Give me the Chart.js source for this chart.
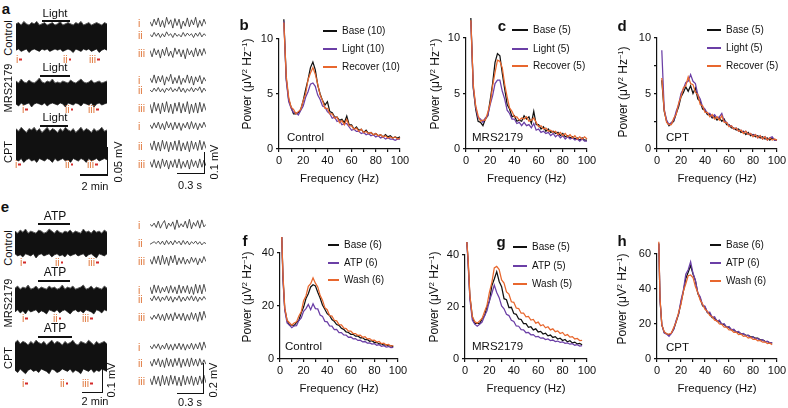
<!DOCTYPE html>
<html>
<head>
<meta charset="utf-8">
<title>Power spectra</title>
<script src="https://cdn.jsdelivr.net/npm/chart.js@4.4.1/dist/chart.umd.min.js"></script>
<style>
  html, body { margin: 0; padding: 0; background: #fff; }
  #fig { position: relative; width: 788px; height: 408px; overflow: hidden;
         font-family: 'Liberation Sans', Arial, Helvetica, sans-serif; color: #111; }
  #fig canvas { position: absolute; }
  .t { position: absolute; white-space: nowrap; line-height: 1; font-size: 11px; }
  .letter { font-weight: bold; font-size: 15px; }
  .roman { color: #e0783c; font-size: 10.5px; }
  .dot { display: inline-block; width: 2.5px; height: 2.5px; background: #d42a2a; margin-left: 1px; vertical-align: middle; }
  .bar { position: absolute; background: #111; }
  sup { font-size: 0.62em; line-height: 0; vertical-align: 0.5em; }
</style>
</head>
<body>
<div id="fig"></div>
<script>
// frequency axes (Hz)
const freqTop = [4,6,8,10,12,14,16,18,20,22,24,26,28,30,32,34,36,38,40,42,44,46,48,50,52,54,56,58,60,62,64,66,68,70,72,74,76,78,80,82,84,86,88,90,92,94,96,98,100];
const freqBottom = [1.5,2.5,4,6,8,10,12,14,16,18,20,22,24,26,28,30,32,34,36,38,40,42,44,46,48,50,52,54,56,58,60,62,64,66,68,70,72,74,76,78,80,82,84,86,88,90,92,94,96];

// b: Control, light
const bBase    = [11.8,6.4,4.5,3.8,3.2,3.2,3.3,3.6,4.4,5.4,6.3,7.4,7.9,7.2,5.8,5.0,4.4,4.0,4.3,3.4,3.3,2.9,2.9,2.6,2.7,2.4,3.0,2.2,2.2,1.8,2.0,1.7,1.8,1.5,1.7,1.4,1.5,1.3,1.4,1.2,1.3,1.1,1.3,1.1,1.2,1.0,1.1,1.0,1.1];
const bLight   = [11.6,6.2,4.3,3.7,3.3,3.3,3.1,3.5,3.9,4.7,5.2,5.9,6.0,5.7,4.9,4.5,3.9,3.8,3.4,3.2,2.8,2.9,2.5,2.6,2.2,2.3,2.3,2.0,1.7,1.8,1.6,1.6,1.4,1.5,1.3,1.4,1.2,1.3,1.1,1.2,1.0,1.1,0.9,1.0,0.9,0.9,0.8,0.9,0.9];
const bRecover = [11.5,6.6,4.7,3.8,3.6,3.2,3.4,3.6,4.4,5.0,6.3,6.9,7.4,6.8,5.9,4.9,4.4,3.7,3.7,3.2,3.2,2.8,2.9,2.4,2.6,2.2,2.7,2.1,2.1,1.8,1.9,1.6,1.8,1.5,1.6,1.4,1.5,1.3,1.4,1.2,1.3,1.1,1.2,1.0,1.1,1.0,1.1,0.9,1.0];

// c: MRS2179, light
const cBase    = [11.8,5.5,3.6,2.5,2.4,2.1,2.7,3.0,4.4,5.9,7.8,8.6,8.4,6.8,5.4,4.0,3.6,2.9,3.0,2.5,2.6,2.5,3.0,2.7,2.9,2.3,3.4,2.2,2.2,1.8,2.0,1.6,1.8,1.5,1.6,1.4,1.5,1.2,1.4,1.1,1.2,1.0,1.1,0.9,1.0,0.8,1.0,0.8,0.8];
const cLight   = [11.5,5.6,3.8,2.8,2.7,2.4,2.8,3.0,4.0,4.8,5.9,6.2,6.2,5.2,4.5,3.5,3.2,2.7,2.7,2.3,2.4,2.1,2.4,2.1,2.2,1.9,2.3,1.7,1.8,1.5,1.6,1.4,1.5,1.2,1.4,1.1,1.3,1.0,1.2,0.9,1.1,0.9,1.0,0.8,0.9,0.7,0.9,0.7,0.7];
const cRecover = [11.6,5.8,3.9,3.0,2.5,2.6,2.6,3.3,4.1,5.7,6.9,8.0,7.9,7.3,5.8,4.7,3.7,3.4,2.9,2.9,2.6,2.8,2.7,2.9,2.5,2.6,2.8,2.4,2.0,2.1,1.8,1.9,1.6,1.7,1.5,1.6,1.3,1.5,1.2,1.4,1.1,1.3,1.0,1.2,0.9,1.1,0.9,1.1,0.9];

// d: CPT, light
const dBase    = [6.2,3.4,2.5,2.1,2.3,2.5,3.2,3.8,4.7,5.1,5.6,5.2,5.7,5.0,5.5,4.5,4.3,3.6,3.5,3.1,3.1,2.8,2.9,2.6,2.8,2.5,2.7,2.2,2.2,1.9,1.9,1.7,1.8,1.5,1.6,1.3,1.5,1.2,1.3,1.1,1.2,1.0,1.1,0.9,1.0,0.8,1.0,0.8,0.8];
const dLight   = [8.9,3.6,2.6,2.2,2.4,2.6,3.4,4.0,5.0,5.4,6.0,6.1,6.7,6.1,5.9,4.9,4.5,3.8,3.6,3.2,3.2,2.9,3.1,2.8,2.9,3.2,2.5,2.4,2.1,2.1,1.8,1.9,1.6,1.7,1.5,1.6,1.3,1.4,1.2,1.3,1.0,1.2,0.9,1.1,0.8,1.0,1.1,0.8,0.8];
const dRecover = [6.4,3.5,2.4,2.2,2.2,2.8,3.1,4.1,4.7,5.5,5.7,6.5,5.9,5.8,5.1,4.9,4.0,3.9,3.3,3.3,2.9,3.1,2.7,2.9,2.6,3.0,2.4,2.4,2.0,2.1,1.8,1.9,1.6,1.7,1.4,1.6,1.3,1.4,1.1,1.3,1.0,1.2,0.9,1.1,0.8,1.0,0.8,0.9,0.8];

// f: Control, ATP
const fBase = [46,31,19,14.5,12.8,12.9,12.6,13.8,14.6,17.4,19.6,22.8,24.6,27.2,28.0,27.6,25.2,23.0,20.4,18.8,17.1,16.4,14.9,14.2,13.0,12.7,11.6,11.2,10.2,10.0,9.3,9.3,8.6,8.7,8.0,8.1,7.3,7.4,6.7,6.9,6.2,6.3,5.7,5.8,5.2,5.4,4.9,5.0,4.7];
const fATP  = [46,30,18.5,13.6,12.8,11.8,12.5,12.6,14.5,15.5,18.0,19.0,20.6,18.6,20.8,19.0,18.9,16.6,16.1,14.2,14.0,12.5,12.4,11.1,11.2,10.0,10.0,9.1,9.0,8.2,8.3,7.6,7.7,7.0,7.1,6.5,6.6,6.0,6.1,5.6,5.8,5.2,5.4,4.8,5.0,4.5,4.7,4.3,4.4];
const fWash = [46,32,19.5,14.6,13.7,12.8,13.6,14.0,16.2,17.8,22.0,23.8,27.4,28.4,30.6,28.6,27.2,24.0,22.2,19.4,18.6,16.4,16.2,14.6,14.4,13.0,12.9,11.7,11.5,10.5,10.5,9.6,9.6,8.9,9.0,8.2,8.4,7.6,7.7,7.0,7.1,6.4,6.6,5.8,6.0,5.3,5.5,4.9,5.1];

// g: MRS2179, ATP
const gBase = [45,38,24,16.2,13.6,13.8,13.6,15.4,16.6,20.2,22.2,28.2,30.8,33.6,29.8,27.8,23.2,22.8,19.8,19.9,17.5,17.2,15.4,15.2,13.6,13.6,12.2,12.4,11.2,11.6,10.4,10.6,9.6,9.9,8.9,9.2,8.3,8.6,7.7,8.0,7.1,7.5,6.6,7.0,6.2,6.5,5.8,6.0,5.5];
const gATP  = [45,37,23,15.0,13.4,12.6,13.4,14.2,16.5,18.5,22.4,25.2,28.4,25.6,23.6,20.4,19.3,17.2,16.7,14.9,14.4,12.7,12.6,11.3,11.2,10.1,10.2,9.3,9.4,8.5,8.7,8.0,8.1,7.5,7.7,7.1,7.3,6.7,6.9,6.4,6.6,6.0,6.2,5.7,5.9,5.3,5.5,5.0,5.1];
const gWash = [45,39,24.5,16.4,14.4,13.8,14.6,15.6,18.2,20.6,25.6,29.4,35.0,35.6,34.4,30.4,29.2,25.8,25.0,22.0,21.8,19.6,19.4,17.6,17.6,16.2,16.4,15.0,15.2,13.8,14.2,12.8,13.2,12.0,12.4,11.2,11.6,10.5,10.8,9.8,10.2,9.0,9.4,8.4,8.6,7.7,7.9,7.1,7.2];

// h: CPT, ATP
const hBase = [66,34,19.5,15.2,14.4,13.6,14.8,17.2,21.4,25.6,32.4,38.6,46.0,49.6,53.4,48.6,44.8,37.4,34.6,30.4,29.6,26.6,25.8,23.6,23.4,21.8,21.6,19.8,19.8,18.2,18.2,16.7,16.6,15.4,15.4,14.4,14.4,13.5,13.5,12.7,12.7,11.9,11.9,11.0,11.0,10.1,10.0,9.2,9.2];
const hATP  = [66,34,19.8,14.8,14.2,13.0,14.6,17.2,22.2,25.8,33.6,39.4,48.4,51.0,55.6,49.0,45.0,37.8,35.6,30.8,30.2,26.6,26.8,23.8,24.2,21.6,22.2,19.8,20.2,18.0,18.6,16.6,17.0,15.4,15.8,14.2,14.6,13.2,13.6,12.2,12.6,11.4,11.8,10.6,11.0,9.8,10.2,9.2,9.4];
const hWash = [67,35,19.6,15.6,14.4,14.2,14.8,18.2,21.2,26.6,31.2,38.8,43.0,47.6,48.0,46.6,41.4,38.0,33.6,31.4,28.4,27.2,24.8,24.2,22.2,21.8,20.0,19.8,18.2,18.2,16.6,16.6,15.2,15.4,14.0,14.2,13.0,13.2,12.0,12.4,11.2,11.4,10.4,10.6,9.6,9.8,8.8,9.0,8.2];

// long recordings: upper / lower envelope of the field potential (arbitrary units)
const aCtrlUp = [1.1,1.2,1.0,1.3,1.1,1.0,1.2,1.1,1.3,1.0,1.1,1.2,1.0,1.1,1.2,1.0,1.1,1.3,1.0,1.1,1.2,1.1,1.0,1.2,1.1,1.3,1.0,1.1,1.2,1.0,1.1,1.2,1.1,1.0,1.2,1.1];
const aCtrlLo = [-1.1,-1.0,-1.2,-1.1,-1.0,-1.3,-1.1,-1.0,-1.1,-1.2,-1.0,-1.1,-1.0,-1.2,-1.1,-1.0,-1.1,-1.0,-1.2,-1.1,-1.0,-1.1,-1.3,-1.0,-1.1,-1.2,-1.0,-1.1,-1.0,-1.2,-1.1,-1.0,-1.3,-1.1,-1.0,-1.1];
const aMrsUp  = [1.2,1.0,1.4,1.1,1.0,1.3,1.1,1.0,1.2,1.5,1.1,1.0,1.2,1.1,1.4,1.0,1.1,1.0,1.2,1.1,1.0,1.3,1.1,1.0,1.2,1.4,1.1,1.0,1.1,1.3,1.0,1.1,1.2,1.0,1.1,1.2];
const aMrsLo  = [-1.1,-1.3,-1.0,-1.2,-1.1,-1.0,-1.4,-1.1,-1.0,-1.1,-1.2,-1.0,-1.3,-1.1,-1.0,-1.1,-1.2,-1.0,-1.1,-1.4,-1.0,-1.1,-1.2,-1.0,-1.1,-1.3,-1.0,-1.1,-1.2,-1.0,-1.4,-1.1,-1.0,-1.2,-1.1,-1.0];
const aCptUp  = [1.3,1.1,1.4,1.2,1.0,1.3,1.2,1.4,1.1,1.3,1.0,1.2,1.4,1.1,1.3,1.2,1.0,1.3,1.1,1.4,1.2,1.1,1.3,1.0,1.2,1.4,1.1,1.3,1.2,1.0,1.3,1.1,1.2,1.4,1.1,1.2];
const aCptLo  = [-1.1,-1.2,-1.0,-1.3,-1.1,-1.0,-1.2,-1.1,-1.3,-1.0,-1.1,-1.2,-1.0,-1.1,-1.3,-1.0,-1.2,-1.1,-1.0,-1.2,-1.1,-1.3,-1.0,-1.1,-1.2,-1.0,-1.1,-1.3,-1.0,-1.2,-1.1,-1.0,-1.2,-1.1,-1.0,-1.1];
const eCtrlUp = [1.2,1.0,1.3,1.1,1.4,1.0,1.2,1.1,1.0,1.3,1.2,1.0,1.1,1.4,1.2,1.0,1.3,1.1,1.0,1.2,1.1,1.3,1.0,1.2,1.1,1.0,1.4,1.1,1.2,1.0,1.3,1.1,1.2,1.0,1.3,1.1];
const eCtrlLo = [-1.0,-1.2,-1.1,-1.3,-1.0,-1.1,-1.2,-1.0,-1.4,-1.1,-1.0,-1.2,-1.1,-1.0,-1.3,-1.1,-1.0,-1.2,-1.1,-1.3,-1.0,-1.2,-1.1,-1.0,-1.2,-1.1,-1.0,-1.3,-1.1,-1.0,-1.2,-1.4,-1.0,-1.1,-1.2,-1.0];
const eMrsUp  = [1.1,1.3,1.0,1.2,1.1,1.4,1.0,1.1,1.3,1.0,1.2,1.1,1.0,1.3,1.1,1.2,1.0,1.1,1.4,1.0,1.2,1.1,1.3,1.0,1.1,1.2,1.4,1.0,1.1,1.3,1.0,1.2,1.1,1.0,1.3,1.1];
const eMrsLo  = [-1.2,-1.0,-1.3,-1.1,-1.4,-1.0,-1.2,-1.1,-1.0,-1.3,-1.1,-1.2,-1.4,-1.0,-1.1,-1.2,-1.0,-1.3,-1.1,-1.0,-1.2,-1.4,-1.1,-1.0,-1.2,-1.1,-1.3,-1.0,-1.1,-1.2,-1.4,-1.0,-1.1,-1.3,-1.0,-1.1];
const eCptUp  = [1.2,1.4,1.1,1.3,1.2,1.0,1.3,1.1,1.4,1.2,1.1,1.3,1.0,1.2,1.4,1.1,1.3,1.2,1.0,1.3,1.1,1.2,1.4,1.1,1.0,1.3,1.2,1.1,1.4,1.2,1.0,1.3,1.1,1.2,1.3,1.1];
const eCptLo  = [-1.1,-1.3,-1.0,-1.2,-1.4,-1.1,-1.0,-1.2,-1.1,-1.3,-1.0,-1.1,-1.2,-1.4,-1.0,-1.1,-1.3,-1.2,-1.0,-1.1,-1.2,-1.0,-1.3,-1.1,-1.2,-1.4,-1.0,-1.1,-1.2,-1.0,-1.3,-1.1,-1.2,-1.0,-1.1,-1.2];

// expanded snippets i, ii, iii (arbitrary units)
const aCtrlI   = [0.2,-0.5,0.6,-0.3,0.8,-0.6,0.4,-0.7,0.9,-0.2,0.5,-0.8,0.7,-0.4,0.6,-0.9,0.3,-0.5,0.8,-0.6,0.5,-0.3,0.9,-0.7,0.4,-0.5,0.6,-0.2];
const aCtrlII  = [0.1,-0.3,0.4,-0.2,0.3,-0.4,0.2,-0.3,0.5,-0.1,0.2,-0.4,0.3,-0.2,0.1,-0.3,0.4,-0.2,0.3,-0.1,0.2,-0.4,0.3,-0.2,0.4,-0.3,0.2,-0.1];
const aCtrlIII = [0.4,-0.6,0.7,-0.3,0.5,-0.8,0.6,-0.4,0.9,-0.5,0.3,-0.7,0.8,-0.2,0.6,-0.6,0.5,-0.9,0.7,-0.3,0.4,-0.6,0.8,-0.5,0.6,-0.4,0.7,-0.2];
const aMrsI    = [0.3,-0.4,0.8,-0.5,0.6,-0.3,0.7,-0.8,0.5,-0.2,0.9,-0.6,0.4,-0.5,0.7,-0.7,0.3,-0.4,0.8,-0.5,0.6,-0.8,0.5,-0.3,0.7,-0.6,0.4,-0.2];
const aMrsII   = [0.0,-0.3,0.3,-0.2,0.4,-0.3,0.2,-0.4,0.3,-0.1,0.4,-0.3,0.2,-0.2,0.5,-0.3,0.3,-0.4,0.2,-0.2,0.4,-0.3,0.3,-0.1,0.5,-0.4,0.3,-0.2];
const aMrsIII  = [0.6,-0.8,0.9,-0.5,0.7,-0.9,0.8,-0.6,1.0,-0.7,0.6,-0.9,0.8,-0.5,0.9,-0.8,0.7,-0.6,1.0,-0.9,0.6,-0.7,0.8,-0.8,0.9,-0.6,0.7,-0.4];
const aCptI    = [0.2,-0.4,0.5,-0.3,0.6,-0.5,0.4,-0.6,0.7,-0.3,0.5,-0.6,0.6,-0.4,0.5,-0.7,0.4,-0.3,0.6,-0.5,0.7,-0.4,0.5,-0.6,0.4,-0.3,0.6,-0.2];
const aCptII   = [0.5,-0.6,0.8,-0.7,0.6,-0.8,0.9,-0.5,0.7,-0.9,0.6,-0.6,0.8,-0.7,0.9,-0.8,0.5,-0.6,0.7,-0.9,0.8,-0.5,0.6,-0.7,0.9,-0.6,0.7,-0.4];
const aCptIII  = [0.4,-0.5,0.7,-0.6,0.5,-0.7,0.8,-0.4,0.6,-0.8,0.5,-0.5,0.7,-0.6,0.8,-0.7,0.4,-0.5,0.6,-0.8,0.7,-0.4,0.5,-0.6,0.8,-0.5,0.6,-0.3];
const eCtrlI   = [0.1,-0.2,0.3,-0.4,0.6,-0.5,0.2,0.7,-0.6,0.3,-0.2,0.5,-0.7,0.8,-0.4,0.2,-0.3,0.6,-0.5,0.9,-0.6,0.4,-0.2,0.7,-0.5,0.8,-0.3,0.1];
const eCtrlII  = [-0.2,0.0,0.2,-0.1,0.3,-0.2,0.3,-0.3,0.4,-0.2,0.3,-0.3,0.4,-0.1,0.3,-0.3,0.4,-0.2,0.3,-0.3,0.2,-0.1,0.3,-0.2,0.2,-0.3,0.1,-0.1];
const eCtrlIII = [0.3,-0.5,0.7,-0.4,0.8,-0.6,0.9,-0.5,0.6,-0.7,0.8,-0.3,0.9,-0.6,0.5,-0.4,0.6,-0.5,0.3,-0.4,0.6,-0.2,0.5,-0.6,0.4,-0.3,0.7,-0.1];
const eMrsI    = [0.5,-0.6,0.8,-0.4,0.7,-0.5,0.4,-0.3,0.6,-0.5,0.7,-0.4,0.5,-0.6,0.8,-0.5,0.6,-0.4,0.7,-0.6,0.5,-0.7,0.9,-0.5,0.8,-0.6,0.9,-0.3];
const eMrsII   = [0.2,-0.3,0.5,-0.2,0.4,-0.4,0.3,-0.2,0.5,-0.3,0.4,-0.5,0.3,-0.2,0.5,-0.4,0.3,-0.3,0.4,-0.2,0.5,-0.3,0.4,-0.4,0.3,-0.2,0.4,-0.1];
const eMrsIII  = [0.1,-0.4,0.3,-0.3,0.5,-0.5,0.4,-0.6,0.6,-0.4,0.5,-0.6,0.7,-0.3,0.5,-0.5,0.6,-0.6,0.4,-0.5,0.7,-0.4,0.6,-0.7,0.8,-0.5,0.9,-0.2];
const eCptI    = [0.2,-0.3,0.4,-0.2,0.5,-0.4,0.3,-0.3,0.6,-0.4,0.4,-0.5,0.5,-0.3,0.6,-0.4,0.5,-0.5,0.4,-0.3,0.6,-0.4,0.5,-0.3,0.7,-0.5,0.8,-0.2];
const eCptII   = [0.3,-0.5,0.6,-0.3,0.7,-0.6,0.5,-0.7,0.8,-0.5,0.6,-0.6,0.7,-0.4,0.8,-0.7,0.6,-0.5,0.7,-0.6,0.8,-0.4,0.6,-0.5,0.7,-0.3,0.5,-0.2];
const eCptIII  = [0.4,-0.6,0.8,-0.5,0.7,-0.8,0.9,-0.6,0.7,-0.7,0.9,-0.5,0.8,-0.7,0.6,-0.8,0.9,-0.6,0.7,-0.5,0.8,-0.7,0.6,-0.6,0.8,-0.4,0.9,-0.3];

const BLACK = '#111111', PURPLE = '#6b3fa6', ORANGE = '#e8672e';
const FONT = "'Liberation Sans', Arial, Helvetica, sans-serif";

Chart.defaults.font.family = FONT;
Chart.defaults.color = '#111';

const fig = document.getElementById('fig');

function addCanvas(x, y, w, h) {
    const c = document.createElement('canvas');
    c.width = w;
    c.height = h;
    c.style.left = x + 'px';
    c.style.top = y + 'px';
    fig.appendChild(c);
    return c;
}

function addText(html, x, y, cls, opts) {
    opts = opts || {};
    const d = document.createElement('div');
    d.className = 't ' + (cls || '');
    d.innerHTML = html;
    d.style.left = x + 'px';
    d.style.top = y + 'px';
    if (opts.size) d.style.fontSize = opts.size + 'px';
    const ax = opts.align === 'left' ? '0' : '-50%';
    d.style.transform = 'translate(' + ax + ',-50%)' + (opts.rot ? ' rotate(-90deg)' : '');
    fig.appendChild(d);
    return d;
}

function addBar(x, y, w, h, color) {
    const d = document.createElement('div');
    d.className = 'bar';
    d.style.left = x + 'px';
    d.style.top = y + 'px';
    d.style.width = w + 'px';
    d.style.height = h + 'px';
    if (color) d.style.background = color;
    fig.appendChild(d);
    return d;
}

// Spectrum panel: area = [left, top, right, bottom] of the plot box on the page
function spectrum(area, freqs, series, yMax, yStep, yLabelStep) {
    const padTop = 28, yAxisW = 40, xAxisH = 42, padRight = 14;
    const w = area[2] - area[0] + yAxisW + padRight;
    const h = area[3] - area[1] + padTop + xAxisH;
    const c = addCanvas(area[0] - yAxisW, area[1] - padTop, w, h);
    const axisGrid = { display: true, drawOnChartArea: false, drawTicks: true, tickLength: 3, color: BLACK, lineWidth: 1.2 };
    new Chart(c, {
        type: 'line',
        data: {
            datasets: series.map((s, k) => ({
                label: s.label,
                data: freqs.map((f, i) => ({ x: f, y: s.values[i] })),
                borderColor: s.color,
                borderWidth: 1.25,
                pointRadius: 0,
                tension: 0,
                clip: false,
                order: series.length - k
            }))
        },
        options: {
            responsive: false,
            animation: false,
            events: [],
            layout: { padding: { top: padTop, right: padRight, left: 0, bottom: 0 } },
            plugins: { legend: { display: false }, tooltip: { enabled: false } },
            scales: {
                x: {
                    type: 'linear', min: 0, max: 100,
                    afterFit(s) { s.height = xAxisH; },
                    grid: axisGrid,
                    border: { color: BLACK, width: 1.2 },
                    ticks: { stepSize: 10, autoSkip: false, maxRotation: 0, padding: 2, font: { size: 11 },
                             callback: v => (v % 20 === 0 ? v : '') },
                    title: { display: true, text: 'Frequency (Hz)', font: { size: 11.5 }, padding: { top: 0, bottom: 5 } }
                },
                y: {
                    min: 0, max: yMax,
                    afterFit(s) { s.width = yAxisW; },
                    grid: axisGrid,
                    border: { color: BLACK, width: 1.2 },
                    ticks: { stepSize: yStep, autoSkip: false, padding: 3, font: { size: 11 },
                             callback: v => (v % yLabelStep === 0 ? v : '') }
                }
            }
        }
    });
}

function legend(lineX, textX, rows, entries) {
    entries.forEach((e, i) => {
        addBar(lineX, rows[i] - 0.75, textX - lineX - 5, 1.5, e.color);
        addText(e.label, textX, rows[i], '', { align: 'left', size: 10 });
    });
}

function yTitle(x, y) {
    addText('Power (\u03bcV<sup>2</sup> Hz<sup>\u22121</sup>)', x, y, '', { rot: true, size: 12 });
}

// long recording drawn as a filled envelope
function longTrace(x, y, w, h, up, lo) {
    const c = addCanvas(x, y, w, h);
    new Chart(c, {
        type: 'line',
        data: {
            labels: up.map((_, i) => i),
            datasets: [
                { data: up, fill: '+1', backgroundColor: BLACK, borderColor: '#5a5a5a', borderWidth: 1, pointRadius: 0, tension: 0 },
                { data: lo, fill: false, borderColor: '#5a5a5a', borderWidth: 1, pointRadius: 0, tension: 0 }
            ]
        },
        options: {
            responsive: false, animation: false, events: [],
            layout: { padding: 0 },
            plugins: { legend: { display: false }, tooltip: { enabled: false } },
            scales: { x: { display: false }, y: { display: false, min: -1.5, max: 1.5 } }
        }
    });
}

function snippet(x, y, w, h, values) {
    const c = addCanvas(x, y, w, h);
    new Chart(c, {
        type: 'line',
        data: {
            labels: values.map((_, i) => i),
            datasets: [{ data: values, borderColor: '#2a2a2a', borderWidth: 0.8, pointRadius: 0, tension: 0 }]
        },
        options: {
            responsive: false, animation: false, events: [],
            layout: { padding: 0 },
            plugins: { legend: { display: false }, tooltip: { enabled: false } },
            scales: { x: { display: false }, y: { display: false, min: -1.1, max: 1.1 } }
        }
    });
}

function marker(numeral, x, y) {
    addText('<span class="roman">' + numeral + '</span><span class="dot"></span>', x, y, '', { align: 'left' });
}

// ---------- spectra ----------
const lightSeries = (a, b, c, n) => [
    { label: 'Base (' + n + ')', values: a, color: BLACK },
    { label: 'Light (' + n + ')', values: b, color: PURPLE },
    { label: 'Recover (' + n + ')', values: c, color: ORANGE }
];
const atpSeries = (a, b, c, n) => [
    { label: 'Base (' + n + ')', values: a, color: BLACK },
    { label: 'ATP (' + n + ')', values: b, color: PURPLE },
    { label: 'Wash (' + n + ')', values: c, color: ORANGE }
];

const panels = [
    { area: [279, 39, 400, 149], f: freqTop, s: lightSeries(bBase, bLight, bRecover, 10), max: 10, step: 5, lab: 5,
      leg: [323, 342, [31, 49, 67]], yt: [247, 84], name: 'Control', nx: 287, ny: 138, letter: ['b', 244, 24] },
    { area: [466, 38, 587, 149], f: freqTop, s: lightSeries(cBase, cLight, cRecover, 5), max: 10, step: 5, lab: 5,
      leg: [512, 533, [30, 49, 66]], yt: [435, 84], name: 'MRS2179', nx: 472, ny: 138, letter: ['c', 502, 25] },
    { area: [657, 38, 777, 149], f: freqTop, s: lightSeries(dBase, dLight, dRecover, 5), max: 10, step: 2.5, lab: 5,
      leg: [707, 726, [30, 48, 66]], yt: [623, 92], name: 'CPT', nx: 666, ny: 138, letter: ['d', 622, 25] },
    { area: [280, 253, 398, 359], f: freqBottom, s: atpSeries(fBase, fATP, fWash, 6), max: 40, step: 20, lab: 20,
      leg: [328, 344, [245, 263, 280]], yt: [247, 297], name: 'Control', nx: 285, ny: 347, letter: ['f', 245, 240] },
    { area: [465, 255, 587, 359], f: freqBottom, s: atpSeries(gBase, gATP, gWash, 5), max: 40, step: 20, lab: 20,
      leg: [513, 532, [247, 266, 284]], yt: [434, 297], name: 'MRS2179', nx: 472, ny: 347, letter: ['g', 501, 241] },
    { area: [657, 254, 777, 359], f: freqBottom, s: atpSeries(hBase, hATP, hWash, 6), max: 60, step: 20, lab: 20,
      leg: [710, 726, [245, 263, 281]], yt: [622, 299], name: 'CPT', nx: 666, ny: 348, letter: ['h', 622, 240] }
];

panels.forEach(p => {
    spectrum(p.area, p.f, p.s, p.max, p.step, p.lab);
    legend(p.leg[0], p.leg[1], p.leg[2], p.s);
    yTitle(p.yt[0], p.yt[1]);
    addText(p.name, p.nx, p.ny, '', { align: 'left', size: 11.5 });
    addText(p.letter[0], p.letter[1], p.letter[2], 'letter');
});

// ---------- recordings (a, e) ----------
addText('a', 6, 8, 'letter');
addText('e', 5, 206, 'letter');

const rowNames = ['Control', 'MRS2179', 'CPT'];
const aRows = [
    { up: aCtrlUp, lo: aCtrlLo, top: 19, h: 36, name: 38, stim: [14, 42, 20, 28], mk: [59, 16, 63, 89], sn: [aCtrlI, aCtrlII, aCtrlIII], sy: [23, 35, 53] },
    { up: aMrsUp,  lo: aMrsLo,  top: 77.5, h: 30, name: 88, stim: [68, 40, 75, 30], mk: [109, 22, 65, 88], sn: [aMrsI, aMrsII, aMrsIII], sy: [80, 90, 108] },
    { up: aCptUp,  lo: aCptLo,  top: 125.5, h: 39, name: 152, stim: [118, 40, 125, 28], mk: [164, 15, 65, 87], sn: [aCptI, aCptII, aCptIII], sy: [126, 146, 164] }
];
const eRows = [
    { up: eCtrlUp, lo: eCtrlLo, top: 227.75, h: 31.5, name: 248, stim: [216, 38, 223, 32], mk: [262, 20, 55, 88], sn: [eCtrlI, eCtrlII, eCtrlIII], sy: [225, 243, 261] },
    { up: eMrsUp,  lo: eMrsLo,  top: 284.25, h: 31.5, name: 303, stim: [272, 38, 280, 32], mk: [318, 22, 53, 82], sn: [eMrsI, eMrsII, eMrsIII], sy: [290, 299, 317] },
    { up: eCptUp,  lo: eCptLo,  top: 338.5, h: 36, name: 358, stim: [328, 38, 336, 34], mk: [383, 22, 60, 82], sn: [eCptI, eCptII, eCptIII], sy: [347, 363, 381] }
];

function recordingPanel(rows, stimLabel, x0, w) {
    rows.forEach((r, k) => {
        longTrace(x0, r.top, w, r.h, r.up, r.lo);
        addText(rowNames[k], 8, r.name, '', { rot: true, size: 11 });
        addText(stimLabel, 55, r.stim[0], '', { size: stimLabel === 'ATP' ? 12 : 11.5 });
        addBar(r.stim[1], r.stim[2], r.stim[3], 1.5);
        marker('i', r.mk[1], r.mk[0]);
        marker('ii', r.mk[2], r.mk[0]);
        marker('iii', r.mk[3], r.mk[0]);
        ['i', 'ii', 'iii'].forEach((n, j) => {
            addText('<span class="roman">' + n + '</span>', 138, r.sy[j], '', { align: 'left' });
            snippet(150, r.sy[j] - 7, 56, 14, r.sn[j]);
        });
    });
}

recordingPanel(aRows, 'Light', 16, 91);
recordingPanel(eRows, 'ATP', 15, 92);

// scale bars
addBar(106.5, 147, 1.5, 28); addBar(80, 174, 28, 1.5);
addText('2 min', 95, 186, '', { size: 11 });
addText('0.05 mV', 118, 162, '', { rot: true, size: 11 });
addBar(203.5, 152, 1.5, 22); addBar(177, 172.5, 28, 1.5);
addText('0.3 s', 190, 185, '', { size: 11 });
addText('0.1 mV', 214, 162, '', { rot: true, size: 11 });

addBar(101.5, 367, 1.5, 26); addBar(82, 391.5, 21, 1.5);
addText('2 min', 95, 401, '', { size: 11 });
addText('0.1 mV', 111, 380, '', { rot: true, size: 11 });
addBar(202.5, 363, 1.5, 31); addBar(177, 392.5, 27, 1.5);
addText('0.3 s', 190, 402, '', { size: 11 });
addText('0.2 mV', 213, 380, '', { rot: true, size: 11 });
</script>
</body>
</html>
